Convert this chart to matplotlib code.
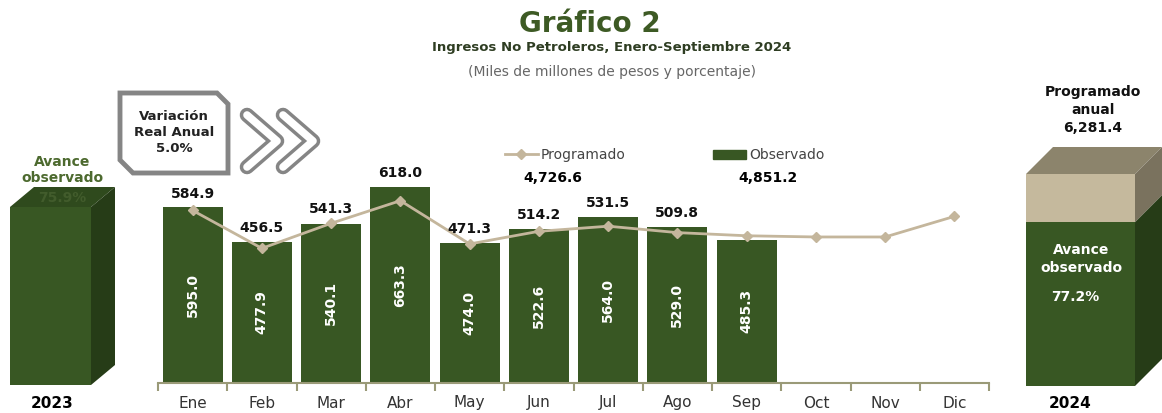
import numpy as np
import matplotlib
matplotlib.use("Agg")
import matplotlib.pyplot as plt
from matplotlib.patches import Polygon
from matplotlib.lines import Line2D

meses = ["Ene", "Feb", "Mar", "Abr", "May", "Jun", "Jul", "Ago", "Sep", "Oct", "Nov", "Dic"]
observado = [595.0, 477.9, 540.1, 663.3, 474.0, 522.6, 564.0, 529.0, 485.3]
programado = [584.9, 456.5, 541.3, 618.0, 471.3, 514.2, 531.5, 509.8, 499.1, 495.0, 495.0, 564.8]
avance_2023 = 75.9
variacion_real = 5.0

verde = "#385723"
verde_osc = "#263c17"
verde_top = "#2f4a1d"
beige = "#c4b69c"
eje = "#9a9a78"

W, H = 1162, 413
fig = plt.figure(figsize=(W / 100, H / 100), dpi=100)

# overlay in pixel coords for decorations
ov = fig.add_axes([0, 0, 1, 1], zorder=0)
ov.set_xlim(0, W)
ov.set_ylim(H, 0)
ov.axis("off")

# main chart
base_px, top_px = 383, 93
scale = 0.295  # px per unit
ax = fig.add_axes([158 / W, (H - base_px) / H, 831 / W, (base_px - top_px) / H], zorder=1)
ax.patch.set_alpha(0)
x = np.arange(len(meses))
ax.bar(x[:len(observado)], observado, width=0.87, color=verde, zorder=2)
ax.plot(x, programado, color=beige, lw=2, marker="D", ms=5.5, zorder=3)
ax.set_xlim(-0.5, 11.5)
ax.set_ylim(0, (base_px - top_px) / scale)

for i, v in enumerate(observado):
    ax.text(i, v / 2, f"{v:.1f}", rotation=90, ha="center", va="center",
            color="white", fontsize=10, fontweight="bold", zorder=4)
# the reference only labels Ene-Ago
for i, p in enumerate(programado[:8]):
    ax.annotate(f"{p:.1f}", (i, max(p, observado[i])), xytext=(0, 5),
                textcoords="offset points", ha="center", va="bottom",
                fontsize=10, fontweight="bold", color="#111111")

for s in ["top", "left", "right"]:
    ax.spines[s].set_visible(False)
ax.spines["bottom"].set_color(eje)
ax.spines["bottom"].set_linewidth(1.5)
ax.set_yticks([])
ax.set_xticks(x)
ax.set_xticklabels(meses, fontsize=11, color="#333333")
ax.tick_params(axis="x", which="major", length=0, pad=9)
ax.set_xticks(np.arange(-0.5, 12, 1), minor=True)
ax.tick_params(axis="x", which="minor", length=6, width=1.5, color=eje)

# legend
handles = [Line2D([], [], color=beige, lw=2, marker="D", ms=5),
           plt.Rectangle((0, 0), 1, 1, color=verde)]
fig.legend(handles, ["Programado", "Observado"], ncol=2, frameon=False,
           loc="center left", bbox_to_anchor=(492 / W, 1 - 155 / H),
           fontsize=10, labelcolor="#444444", columnspacing=6.3,
           handlelength=2.4, handletextpad=0.2, handleheight=0.6)
tot_prog = sum(programado[:len(observado)])
tot_obs = sum(observado)
ov.text(553, 178, f"{tot_prog:,.1f}", ha="center", va="center", fontsize=10, fontweight="bold")
ov.text(768, 178, f"{tot_obs:,.1f}", ha="center", va="center", fontsize=10, fontweight="bold")

# titles
ov.text(590, 24, "Gráfico 2", ha="center", va="center", fontsize=20, fontweight="bold", color="#3d5a24")
ov.text(612, 48, "Ingresos No Petroleros, Enero-Septiembre 2024", ha="center", va="center",
        fontsize=9.5, fontweight="bold", color="#2e3d22")
ov.text(612, 72, "(Miles de millones de pesos y porcentaje)", ha="center", va="center",
        fontsize=10, color="#666666")

# variacion box
caja = [(120, 93), (217, 93), (228, 104), (228, 173), (133, 173), (120, 160)]
ov.add_patch(Polygon(caja, closed=True, fc="white", ec="#858585", lw=3.5, zorder=2))
ov.text(174, 133, f"Variación\nReal Anual\n{variacion_real:.1f}%", ha="center", va="center",
        fontsize=9.5, fontweight="bold", color="#222222", linespacing=1.3, zorder=3)
for x0 in (247, 283):
    xs = [x0, x0 + 30, x0]
    ys = [115, 141, 167]
    ov.plot(xs, ys, color="#858585", lw=10.5, solid_capstyle="round", solid_joinstyle="round", zorder=2)
    ov.plot(xs, ys, color="white", lw=5.5, solid_capstyle="round", solid_joinstyle="round", zorder=3)

# 2023 box
l, r, t, b, d = 10, 91, 207, 385, 24
ov.add_patch(Polygon([(l, t), (r, t), (r, b), (l, b)], fc=verde, zorder=1))
ov.add_patch(Polygon([(l, t), (r, t), (r + d, t - 20), (l + d, t - 20)], fc=verde_top, zorder=1))
ov.add_patch(Polygon([(r, t), (r + d, t - 20), (r + d, b - 20), (r, b)], fc=verde_osc, zorder=1))
ov.text(62, 170, "Avance\nobservado", ha="center", va="center", fontsize=10,
        fontweight="bold", color="#4d6a2f", linespacing=1.2, zorder=2)
ov.text(62, 198, f"{avance_2023:.1f}%", ha="center", va="center", fontsize=10,
        fontweight="bold", color="#425c2c", zorder=2)
ov.text(52, 403, "2023", ha="center", va="center", fontsize=11, fontweight="bold")

# 2024 box
anual = sum(programado)
avance = tot_obs / anual * 100
l, r, t, b, d = 1026, 1135, 174, 386, 27
ys = b - (b - t) * avance / 100
ov.add_patch(Polygon([(l, ys), (r, ys), (r, b), (l, b)], fc=verde, zorder=1))
ov.add_patch(Polygon([(l, t), (r, t), (r, ys), (l, ys)], fc="#c5b99d", zorder=1))
ov.add_patch(Polygon([(l, t), (r, t), (r + d, t - d), (l + d, t - d)], fc="#8c846c", zorder=1))
ov.add_patch(Polygon([(r, t), (r + d, t - d), (r + d, ys - d), (r, ys)], fc="#7a725e", zorder=1))
ov.add_patch(Polygon([(r, ys), (r + d, ys - d), (r + d, b - d), (r, b)], fc=verde_osc, zorder=1))
ov.text(1093, 110, f"Programado\nanual\n{anual:,.1f}", ha="center", va="center", fontsize=10,
        fontweight="bold", color="#111111", linespacing=1.35)
ov.text(1081, 259, "Avance\nobservado", ha="center", va="center", fontsize=10,
        fontweight="bold", color="white", linespacing=1.3, zorder=2)
ov.text(1075, 297, f"{avance:.1f}%", ha="center", va="center", fontsize=10,
        fontweight="bold", color="white", zorder=2)
ov.text(1070, 403, "2024", ha="center", va="center", fontsize=11, fontweight="bold")

fig.savefig("out.png", dpi=100)
